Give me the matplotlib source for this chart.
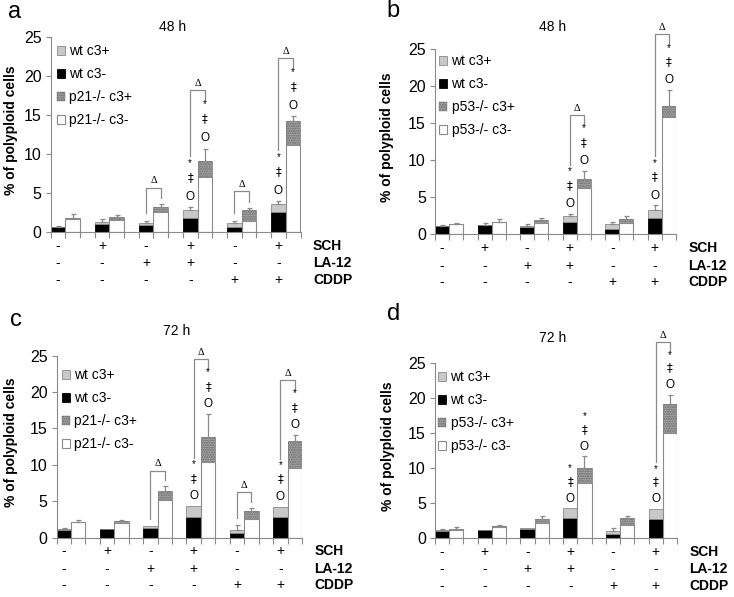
import matplotlib.pyplot as plt
from matplotlib.patches import Patch

plt.rcParams['font.family'] = ['Liberation Sans', 'DejaVu Sans']

W, H = 734, 597

# treatment table under every panel
sch = ['-', '+', '-', '+', '-', '+']
la12 = ['-', '-', '+', '+', '-', '-']
cddp = ['-', '-', '-', '-', '+', '+']

# a: p21-/- 48 h  (c3- part, c3+ part stacked on it, upper SD)
a_wt_neg = [0.64, 1.07, 0.85, 1.84, 0.60, 2.52]
a_wt_pos = [0.03, 0.21, 0.25, 0.94, 0.50, 1.05]
a_wt_sd = [0.10, 0.34, 0.35, 0.40, 0.30, 0.35]
a_ko_neg = [1.70, 1.50, 2.52, 7.10, 1.45, 11.17]
a_ko_pos = [0.10, 0.38, 0.68, 2.00, 1.35, 3.09]
a_ko_sd = [0.46, 0.30, 0.40, 1.60, 0.30, 0.56]
a_marked = [3, 5]
a_delta = [2, 3, 4, 5]

# b: p53-/- 48 h
b_wt_neg = [1.08, 1.20, 0.95, 1.67, 0.77, 2.25]
b_wt_pos = [0.05, 0.06, 0.22, 0.76, 0.58, 1.04]
b_wt_sd = [0.17, 0.24, 0.23, 0.32, 0.27, 0.63]
b_ko_neg = [1.40, 1.65, 1.58, 6.30, 1.53, 15.79]
b_ko_pos = [0.02, 0.05, 0.36, 1.18, 0.59, 1.50]
b_ko_sd = [0.16, 0.35, 0.30, 1.08, 0.36, 2.13]
b_marked = [3, 5]
b_delta = [3, 5]

# c: p21-/- 72 h
c_wt_neg = [1.06, 1.15, 1.25, 2.85, 0.60, 2.75]
c_wt_pos = [0.04, 0.05, 0.30, 1.50, 0.45, 1.50]
c_wt_sd = [0.14, 0.00, 0.00, 0.00, 0.60, 0.00]
c_ko_neg = [2.11, 2.05, 5.10, 10.35, 2.55, 9.50]
c_ko_pos = [0.04, 0.20, 1.25, 3.45, 1.15, 3.80]
c_ko_sd = [0.19, 0.15, 0.75, 3.20, 0.40, 0.80]
c_marked = [3, 5]
c_delta = [2, 3, 4, 5]

# d: p53-/- 72 h
d_wt_neg = [1.06, 1.15, 1.22, 2.82, 0.60, 2.68]
d_wt_pos = [0.04, 0.02, 0.20, 1.50, 0.45, 1.52]
d_wt_sd = [0.15, 0.00, 0.00, 0.00, 0.45, 0.00]
d_ko_neg = [1.10, 1.60, 2.18, 7.87, 1.92, 15.05]
d_ko_pos = [0.12, 0.15, 0.58, 2.20, 0.98, 4.15]
d_ko_sd = [0.30, 0.15, 0.45, 1.67, 0.30, 1.30]
d_marked = [3, 5]
d_delta = [5]

LINE = '#8a8a8a'
WT_POS = '#c8c8c8'
SPECK = '#a6a6a6'

# pixel layout: x0, x1, y(0), y(25), letter xy, title y, legend xy, ylabel x
layout = {
    'a': dict(box=(50.5, 300.5, 232, 37), letter=(8, 12), title=27, legend=(57, 44), ylab=11),
    'b': dict(box=(435, 676, 234.3, 48.6), letter=(386, 11), title=27, legend=(439, 54), ylab=387),
    'c': dict(box=(56.5, 302, 537.5, 355.5), letter=(10, 320), title=331, legend=(62, 368), ylab=11),
    'd': dict(box=(435, 677, 538, 363), letter=(387, 314), title=338, legend=(438, 370), ylab=388),
}

panels = [
    ('a', '48 h', 'p21', a_wt_neg, a_wt_pos, a_wt_sd, a_ko_neg, a_ko_pos, a_ko_sd, a_marked, a_delta),
    ('b', '48 h', 'p53', b_wt_neg, b_wt_pos, b_wt_sd, b_ko_neg, b_ko_pos, b_ko_sd, b_marked, b_delta),
    ('c', '72 h', 'p21', c_wt_neg, c_wt_pos, c_wt_sd, c_ko_neg, c_ko_pos, c_ko_sd, c_marked, c_delta),
    ('d', '72 h', 'p53', d_wt_neg, d_wt_pos, d_wt_sd, d_ko_neg, d_ko_pos, d_ko_sd, d_marked, d_delta),
]

fig = plt.figure(figsize=(W / 100, H / 100), dpi=100)


def draw_panel(letter, title, ko_name, wt_neg, wt_pos, wt_sd, ko_neg, ko_pos, ko_sd, marked, delta):
    lay = layout[letter]
    x0, x1, y0, y25 = lay['box']
    ax = fig.add_axes([x0 / W, 1 - y0 / H, (x1 - x0) / W, (y0 - y25) / H])
    n = len(wt_neg)
    wt_x = [3 * i for i in range(n)]
    ko_x = [3 * i + 1 for i in range(n)]

    ax.bar(wt_x, wt_neg, width=1, align='edge', color='black', edgecolor='black', lw=0.6)
    ax.bar(wt_x, wt_pos, bottom=wt_neg, width=1, align='edge', color=WT_POS, edgecolor=LINE, lw=0.6)
    ax.bar(ko_x, ko_neg, width=1, align='edge', color='white', edgecolor=LINE, lw=0.8)
    ax.bar(ko_x, ko_pos, bottom=ko_neg, width=1, align='edge', color=SPECK, edgecolor=LINE, lw=0.6)
    ax.bar(ko_x, ko_pos, bottom=ko_neg, width=1, align='edge', color='none', edgecolor='#6a6a6a',
           lw=0, hatch='.......')

    wt_top = [a + b for a, b in zip(wt_neg, wt_pos)]
    ko_top = [a + b for a, b in zip(ko_neg, ko_pos)]
    for xs, tops, sds in [(wt_x, wt_top, wt_sd), (ko_x, ko_top, ko_sd)]:
        keep = [i for i in range(n) if sds[i] > 0]
        ax.errorbar([xs[i] + 0.5 for i in keep], [tops[i] for i in keep],
                    yerr=[[0] * len(keep), [sds[i] for i in keep]],
                    fmt='none', ecolor=LINE, elinewidth=0.9, capsize=1.8, capthick=0.9)

    err_wt = [t + s for t, s in zip(wt_top, wt_sd)]
    err_ko = [t + s for t, s in zip(ko_top, ko_sd)]
    # significance marks above the treated bars
    for g in marked:
        for xc, base in [(wt_x[g] + 0.5, err_wt[g]), (ko_x[g] + 0.5, err_ko[g])]:
            ax.text(xc, base + 1.3, 'O', ha='center', va='center', fontsize=8.5, clip_on=False)
            ax.text(xc, base + 3.8, '‡', ha='center', va='center', fontsize=8.5,
                    family=['DejaVu Sans'], clip_on=False)
            ax.text(xc, base + 5.7, '*', ha='center', va='center', fontsize=7, clip_on=False)

    # wt vs knockout brackets
    for g in delta:
        lx, rx = wt_x[g] + 0.5, ko_x[g] + 0.5
        if g in marked:
            lo_l = err_wt[g] + 6.6
            lo_r = err_ko[g] + 6.2
        else:
            lo_l = err_wt[g] + 1.0
            lo_r = err_ko[g] + 0.8
        top = lo_r + 1.3
        ax.plot([lx, lx, rx, rx], [lo_l, top, top, lo_r], color=LINE, lw=0.9, clip_on=False)
        ax.annotate('Δ', xy=((lx + rx) / 2, top), xytext=(0, 1.5), textcoords='offset points',
                    ha='center', va='bottom', fontsize=7.5, family=['Liberation Serif'],
                    annotation_clip=False)

    ax.set_xlim(0, 3 * n - 1)
    ax.set_ylim(0, 25)
    ax.set_xticks(range(3 * n))
    ax.set_xticklabels([])
    ax.set_yticks(range(0, 26, 5))
    ax.tick_params(axis='y', labelsize=11.5, length=3.5, width=0.8, color=LINE, pad=3)
    ax.tick_params(axis='x', length=4, width=0.8, color=LINE)
    for side in ['top', 'right']:
        ax.spines[side].set_visible(False)
    for side in ['left', 'bottom']:
        ax.spines[side].set_color(LINE)
        ax.spines[side].set_linewidth(0.8)

    # treatment rows
    offsets = [10, 22.5, 34.5]
    for row, (name, vals) in enumerate([('SCH', sch), ('LA-12', la12), ('CDDP', cddp)]):
        for g, v in enumerate(vals):
            ax.annotate(v, xy=(wt_x[g] + 0.5, 0), xytext=(0, -offsets[row]), textcoords='offset points',
                        ha='center', va='center', fontsize=10, annotation_clip=False)
        ax.annotate(name, xy=(1, 0), xycoords='axes fraction', xytext=(9, -offsets[row]),
                    textcoords='offset points', ha='left', va='center', fontsize=10,
                    fontweight='bold', annotation_clip=False)

    handles = [
        Patch(facecolor=WT_POS, edgecolor=LINE, lw=0.6, label='wt c3+'),
        Patch(facecolor='black', edgecolor='black', lw=0.6, label='wt c3-'),
        Patch(facecolor=SPECK, edgecolor='#6a6a6a', lw=0.3, hatch='.......', label=f'{ko_name}-/- c3+'),
        Patch(facecolor='white', edgecolor=LINE, lw=0.8, label=f'{ko_name}-/- c3-'),
    ]
    lx, ly = lay['legend']
    ax.legend(handles=handles, loc='upper left', bbox_to_anchor=(lx / W, 1 - ly / H),
              bbox_transform=fig.transFigure, frameon=False, fontsize=10, handlelength=0.6,
              handleheight=0.6, handletextpad=0.3, labelspacing=0.65, borderpad=0, borderaxespad=0)

    cx = (x0 + x1) / 2 - 3
    fig.text(cx / W, 1 - lay['title'] / H, title, ha='center', va='center', fontsize=10)
    px, py = lay['letter']
    fig.text(px / W, 1 - py / H, letter, ha='left', va='center', fontsize=17)
    fig.text(lay['ylab'] / W, 1 - ((y0 + y25) / 2 - 4) / H, '% of polyploid cells', rotation=90,
             ha='center', va='center', fontsize=10, fontweight='bold')
    return ax


for p in panels:
    draw_panel(*p)

fig.savefig('out.png', dpi=100)
